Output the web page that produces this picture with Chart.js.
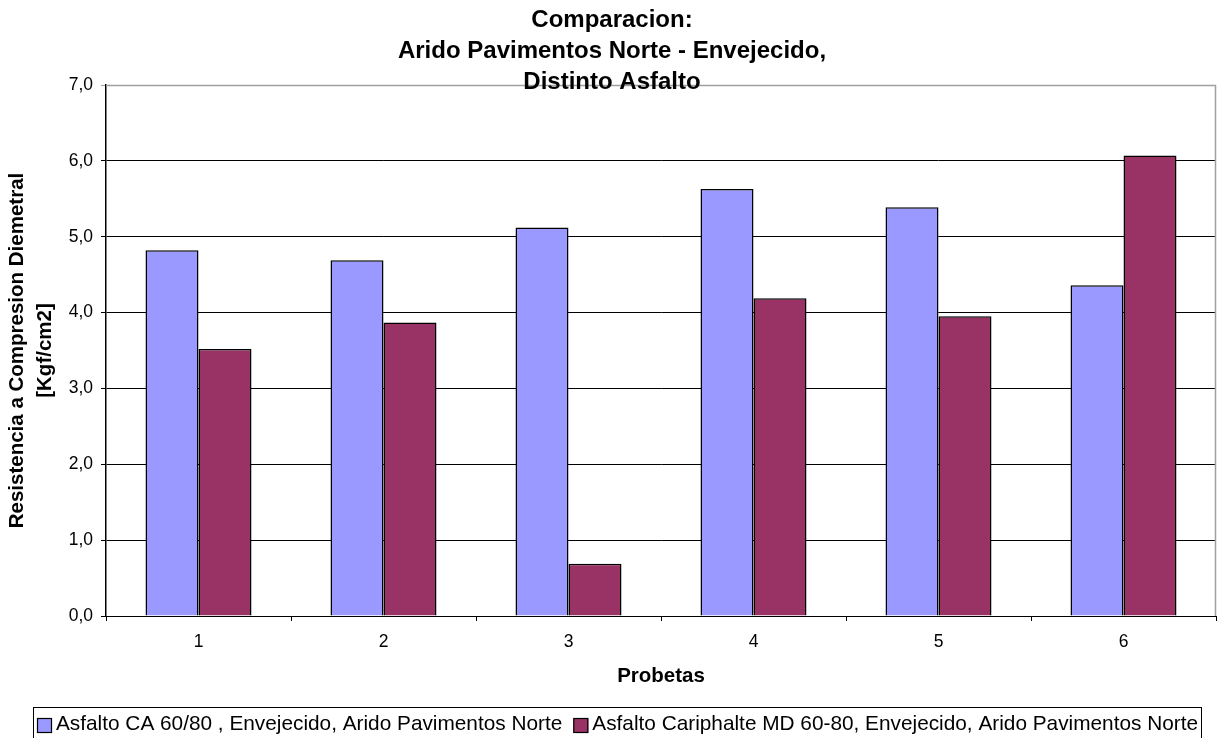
<!DOCTYPE html>
<html>
<head>
<meta charset="utf-8">
<script src="https://cdn.jsdelivr.net/npm/chart.js@4/dist/chart.umd.min.js"></script>
<style>
  html, body { margin: 0; padding: 0; background: #fff; }
  #wrap { width: 1224px; height: 738px; position: relative; }
</style>
</head>
<body>
<div id="wrap"><canvas id="c"></canvas></div>
<script>
const categories = ['1', '2', '3', '4', '5', '6'];
const serieCA = [4.82, 4.69, 5.12, 5.63, 5.39, 4.36];
const serieCariphalte = [3.52, 3.87, 0.69, 4.19, 3.95, 6.07];
const seriesNames = [
  'Asfalto CA 60/80 , Envejecido, Arido Pavimentos Norte',
  'Asfalto Cariphalte MD 60-80, Envejecido, Arido Pavimentos Norte'
];
const titleLines = ['Comparacion:', 'Arido Pavimentos Norte - Envejecido,', 'Distinto Asfalto'];
const yTitleLines = ['Resistencia a Compresion Diemetral', '[Kgf/cm2]'];
const xTitle = 'Probetas';
const yMin = 0, yMax = 7, yStep = 1;

const FONT = '"Liberation Sans", Arial, sans-serif';
Chart.defaults.color = '#000';
Chart.defaults.font.family = FONT;

const colors = ['#9999FF', '#993366'];

const frame = {
  id: 'frame',
  beforeDatasetsDraw(chart) {
    const {ctx, chartArea: a} = chart;
    ctx.save();
    ctx.strokeStyle = '#a0a0a0';
    ctx.lineWidth = 1.5;
    ctx.beginPath();
    ctx.moveTo(a.left, a.top + 0.5);
    ctx.lineTo(a.right - 0.5, a.top + 0.5);
    ctx.lineTo(a.right - 0.5, a.bottom);
    ctx.stroke();
    ctx.restore();
  },
  afterDraw(chart) {
    const {ctx} = chart;
    ctx.save();
    // title
    ctx.fillStyle = '#000';
    ctx.font = 'bold 24px ' + FONT;
    ctx.textAlign = 'center';
    ctx.textBaseline = 'alphabetic';
    const cx = 612;
    titleLines.forEach((t, i) => ctx.fillText(t, cx, 27 + i * 31));
    // legend
    ctx.strokeStyle = '#000';
    ctx.lineWidth = 1;
    ctx.strokeRect(33.5, 707.5, 1168, 40);
    ctx.font = '20.8px ' + FONT;
    ctx.textAlign = 'left';
    ctx.textBaseline = 'middle';
    let x = 37;
    const ym = 723;
    chart.data.datasets.forEach((ds) => {
      ctx.fillStyle = ds.backgroundColor;
      ctx.fillRect(x, ym - 5, 15, 15);
      ctx.strokeStyle = '#000';
      ctx.lineWidth = 1.2;
      ctx.strokeRect(x + 0.5, ym - 4.5, 14, 14);
      ctx.fillStyle = '#000';
      ctx.fillText(ds.label, x + 19, ym + 1);
      x += 19 + ctx.measureText(ds.label).width + 11;
    });
    ctx.restore();
  }
};

new Chart(document.getElementById('c'), {
  type: 'bar',
  data: {
    labels: categories,
    datasets: [
      { label: seriesNames[0], data: serieCA, backgroundColor: colors[0], borderColor: '#000', borderWidth: 1.5 },
      { label: seriesNames[1], data: serieCariphalte, backgroundColor: colors[1], borderColor: '#000', borderWidth: 1.5 }
    ]
  },
  options: {
    responsive: true,
    maintainAspectRatio: false,
    animation: false,
    layout: { padding: { top: 85, right: 8, bottom: 38, left: 0 } },
    datasets: { bar: { categoryPercentage: 0.573, barPercentage: 1.0 } },
    plugins: {
      legend: { display: false },
      title: { display: false },
      tooltip: { enabled: false }
    },
    scales: {
      x: {
        grid: { display: true, drawOnChartArea: false, drawTicks: true, tickLength: 5, color: '#000', offset: true },
        border: { color: '#000', width: 1 },
        ticks: { font: { size: 17.5 }, padding: 11, color: '#000' },
        title: { display: true, text: xTitle, font: { size: 20.5, weight: 'bold', lineHeight: 1.2 }, padding: { top: 0, bottom: 11.7 }, color: '#000' },
        afterFit(s) { s.height = 84; }
      },
      y: {
        min: yMin, max: yMax,
        grid: {
          color: (c) => (c.tick && c.tick.value === yMax) ? '#a0a0a0' : '#000',
          lineWidth: 1, tickLength: 5
        },
        border: { color: '#000', width: 1.5 },
        ticks: {
          stepSize: yStep, padding: 8, font: { size: 17.5 }, color: '#000',
          callback: (v) => Number(v).toFixed(1).replace('.', ',')
        },
        title: { display: true, text: yTitleLines, font: { size: 20.5, weight: 'bold', lineHeight: 1.35 }, padding: { top: 4, bottom: 0 }, color: '#000' },
        afterFit(s) { s.width = 106; }
      }
    }
  },
  plugins: [frame]
});
</script>
</body>
</html>
